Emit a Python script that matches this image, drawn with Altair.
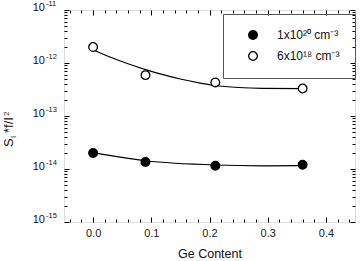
import altair as alt
import pandas as pd

# ---- data ----
ge_content = [0.0, 0.09, 0.21, 0.36]
s_1e20 = [2.0e-14, 1.35e-14, 1.15e-14, 1.2e-14]
s_6e18 = [2.0e-12, 5.9e-13, 4.3e-13, 3.3e-13]
series_names = ["1x10²⁰ cm⁻³", "6x10¹⁸ cm⁻³"]

# fitted guide curves
fit_x_1e20 = [0.0, 0.09, 0.21, 0.29, 0.36]
fit_y_1e20 = [2.03e-14, 1.43e-14, 1.19e-14, 1.15e-14, 1.16e-14]
fit_x_6e18 = [0.0, 0.03, 0.06, 0.09, 0.12, 0.15, 0.18, 0.21, 0.25, 0.29, 0.36]
fit_y_6e18 = [1.76e-12, 1.285e-12, 9.67e-13, 7.52e-13, 6.03e-13, 4.99e-13, 4.27e-13,
              3.76e-13, 3.45e-13, 3.32e-13, 3.28e-13]

x_major = [0.0, 0.1, 0.2, 0.3, 0.4]
x_minor = [-0.04, -0.02, 0.02, 0.04, 0.06, 0.08, 0.12, 0.14, 0.16, 0.18,
           0.22, 0.24, 0.26, 0.28, 0.32, 0.34, 0.36, 0.38, 0.42, 0.44]
y_major = [1e-15, 1e-14, 1e-13, 1e-12, 1e-11]
y_exp_labels = ["-15", "-14", "-13", "-12", "-11"]
y_minor = [m * d for d in [1e-15, 1e-14, 1e-13, 1e-12] for m in range(2, 10)]

W, H = 291, 212
FONT = "Liberation Sans"

rows = []
for x, a, b in zip(ge_content, s_1e20, s_6e18):
    rows.append({"x": x, "y": a, "series": series_names[0]})
    rows.append({"x": x, "y": b, "series": series_names[1]})
df = pd.DataFrame(rows)

fit_rows = [{"x": x, "y": y, "series": series_names[0]} for x, y in zip(fit_x_1e20, fit_y_1e20)]
fit_rows += [{"x": x, "y": y, "series": series_names[1]} for x, y in zip(fit_x_6e18, fit_y_6e18)]
fit_df = pd.DataFrame(fit_rows)

xs = alt.Scale(domain=[-0.05, 0.45], nice=False, zero=False)
ys = alt.Scale(type="log", domain=[1e-15, 1e-11], nice=False)

base = alt.Chart(df)


def tick_layer(xvals, yvals, xorient, yorient, xoff, yoff, size):
    return base.mark_point(opacity=0).encode(
        x=alt.X("x:Q", scale=xs, axis=alt.Axis(
            values=xvals, orient=xorient, offset=xoff, labels=False, title=None,
            domain=False, grid=False, tickSize=size, tickColor="black", tickWidth=1)),
        y=alt.Y("y:Q", scale=ys, axis=alt.Axis(
            values=yvals, orient=yorient, offset=yoff, labels=False, title=None,
            domain=False, grid=False, tickSize=size, tickColor="black", tickWidth=1)),
    )


ticks = [
    tick_layer(x_major, y_major, "top", "right", -H, -W, 5),
    tick_layer(x_minor, y_minor, "top", "right", -H, -W, 3),
    tick_layer(x_major, y_major, "bottom", "left", -H, -W, 5),
    tick_layer(x_minor, y_minor, "bottom", "left", -H, -W, 3),
]

fits = alt.Chart(fit_df).mark_line(color="black", strokeWidth=1.2, interpolate="monotone").encode(
    x=alt.X("x:Q", scale=xs, axis=None),
    y=alt.Y("y:Q", scale=ys, axis=None),
    detail="series:N",
)

points = base.mark_point(filled=False, size=75, strokeWidth=1.3, opacity=1).encode(
    x=alt.X("x:Q", scale=xs, axis=alt.Axis(
        values=x_major, format=".1f", orient="bottom", ticks=False, domain=False,
        grid=False, labelFont=FONT, labelFontSize=11, labelColor="#222",
        labelPadding=5, title="Ge Content", titleFont=FONT, titleFontSize=12.5,
        titleFontWeight="normal", titleColor="#111", titlePadding=9)),
    y=alt.Y("y:Q", scale=ys, axis=None),
    fill=alt.Fill("series:N", scale=alt.Scale(domain=series_names, range=["black", "white"]),
                  legend=alt.Legend(
                      title=None, orient="none", legendX=159, legendY=4,
                      strokeColor="#555", padding=15,
                      symbolType="circle", symbolSize=75, symbolStrokeColor="black",
                      symbolStrokeWidth=1.3, labelFont=FONT, labelFontSize=12,
                      labelColor="#111", labelOffset=18, rowPadding=7,
                      symbolOffset=9)),
    stroke=alt.value("black"),
)

lab_df = pd.DataFrame({"y": y_major, "e": y_exp_labels})
lab_base = alt.Chart(lab_df)
lab10 = lab_base.mark_text(align="right", baseline="middle", font=FONT, fontSize=11,
                           color="#111", dy=-2).encode(
    x=alt.value(-19), y=alt.Y("y:Q", scale=ys, axis=None), text=alt.value("10"))
labexp = lab_base.mark_text(align="left", baseline="middle", font=FONT, fontSize=7.5,
                            color="#111", dy=-6).encode(
    x=alt.value(-18), y=alt.Y("y:Q", scale=ys, axis=None), text="e:N")

title_df = pd.DataFrame({"t": ["S", "I", "*f/I", "2"],
                         "px": [-51, -48, -51, -55],
                         "py": [137, 128, 123, 106],
                         "fs": [13, 8, 13, 8]})
ytitle = alt.Chart(title_df).mark_text(angle=270, align="left", baseline="alphabetic",
                                        font=FONT, color="#111").encode(
    x=alt.X("px:Q", scale=None), y=alt.Y("py:Q", scale=None), text="t:N",
    size=alt.Size("fs:Q", scale=None, legend=None))

chart = alt.layer(*ticks, fits, points, lab10, labexp, ytitle).resolve_axis(
    x="independent", y="independent"
).properties(
    width=W, height=H,
    autosize=alt.AutoSizeParams(type="none"),
    padding={"left": 64, "top": 10, "right": 8, "bottom": 39},
).configure_view(stroke="black", strokeWidth=1).configure(background="white")

chart.save("out.html", embed_options={"renderer": "svg", "actions": False})
